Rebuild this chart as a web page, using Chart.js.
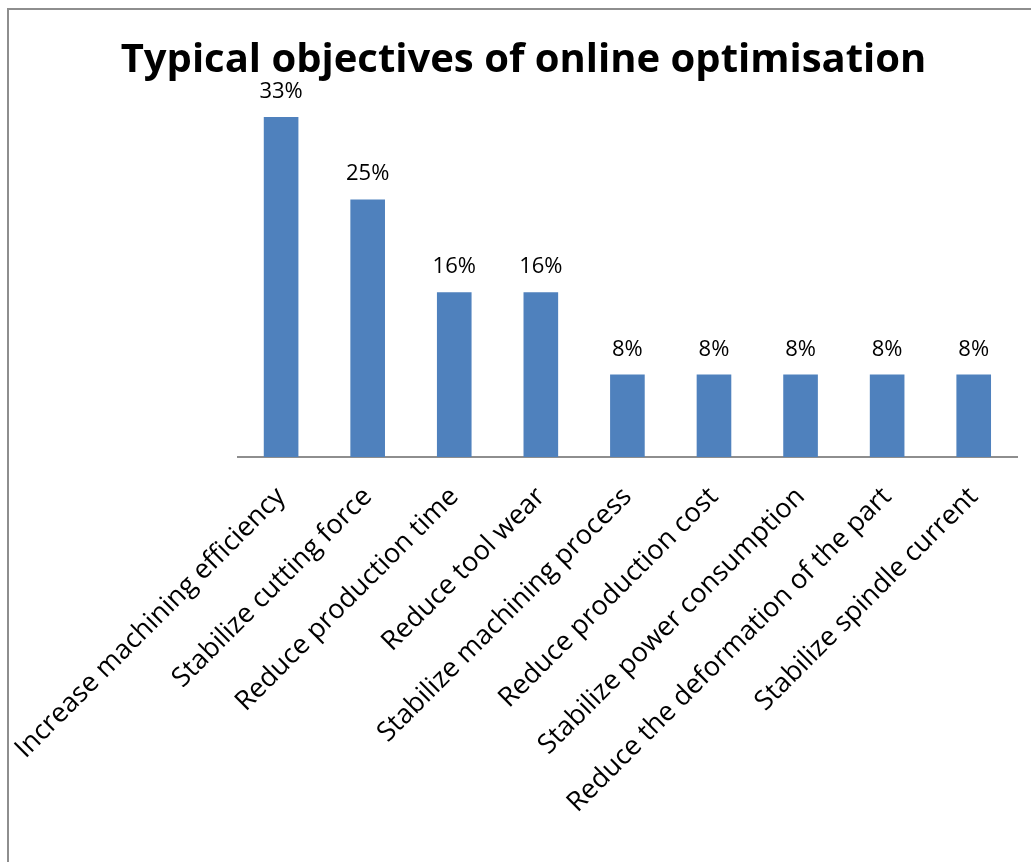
<!DOCTYPE html>
<html>
<head>
<meta charset="utf-8">
<script src="https://cdn.jsdelivr.net/npm/chart.js@4.4.1/dist/chart.umd.min.js"></script>
<style>
  html, body { margin: 0; padding: 0; background: #fff; overflow: hidden; }
  #chart { position: absolute; left: -4px; top: 10px; display: block; }
  #frame {
    position: absolute; left: 7px; top: 8px; width: 1030px; height: 860px;
    border-left: 2px solid #8e8e8e; border-top: 2px solid #8e8e8e;
    box-sizing: border-box; pointer-events: none;
  }
</style>
</head>
<body>
<canvas id="chart" width="1035" height="852"></canvas>
<div id="frame"></div>
<script>
const objectives = [
    'Increase machining efficiency',
    'Stabilize cutting force',
    'Reduce production time',
    'Reduce tool wear',
    'Stabilize machining process',
    'Reduce production cost',
    'Stabilize power consumption',
    'Reduce the deformation of the part',
    'Stabilize spindle current'
];
const shares = [33, 25, 16, 16, 8, 8, 8, 8, 8];
const chartTitle = 'Typical objectives of online optimisation';

const barColor = '#4f81bd';
const textFont = "'Open Sans', 'DejaVu Sans', sans-serif";

// title sits a little right of the canvas centre, so it is drawn by hand
const titleText = {
    id: 'titleText',
    afterDraw(chart) {
        const ctx = chart.ctx;
        ctx.save();
        ctx.font = 'bold 40px ' + textFont;
        ctx.fillStyle = '#000';
        ctx.textAlign = 'center';
        ctx.textBaseline = 'alphabetic';
        ctx.fillText(chartTitle, chart.width / 2 + 10, 62);
        ctx.restore();
    }
};

// percentage written above each bar
const valueLabels = {
    id: 'valueLabels',
    afterDatasetsDraw(chart) {
        const ctx = chart.ctx;
        const meta = chart.getDatasetMeta(0);
        ctx.save();
        ctx.font = '22px ' + textFont;
        ctx.fillStyle = '#000';
        ctx.textAlign = 'center';
        ctx.textBaseline = 'alphabetic';
        meta.data.forEach((bar, i) => {
            ctx.fillText(shares[i] + '%', bar.x, bar.y - 19);
        });
        ctx.restore();
    }
};

new Chart(document.getElementById('chart'), {
    type: 'bar',
    data: {
        labels: objectives,
        datasets: [{
            data: shares,
            backgroundColor: barColor,
            borderWidth: 0,
            categoryPercentage: 1,
            barPercentage: 0.4
        }]
    },
    options: {
        responsive: false,
        animation: false,
        layout: { padding: { left: 0, right: 14, top: 72, bottom: 30 } },
        plugins: {
            legend: { display: false },
            tooltip: { enabled: false },
            title: { display: false }
        },
        scales: {
            x: {
                grid: { display: false, drawTicks: false },
                border: { display: true, color: '#8e8e8e', width: 2 },
                ticks: {
                    color: '#000',
                    font: { family: textFont, size: 27 },
                    minRotation: 45,
                    maxRotation: 45,
                    padding: 24,
                    autoSkip: false
                }
            },
            y: {
                display: false,
                min: 0,
                max: 36.4
            }
        }
    },
    plugins: [valueLabels, titleText]
});
</script>
</body>
</html>
